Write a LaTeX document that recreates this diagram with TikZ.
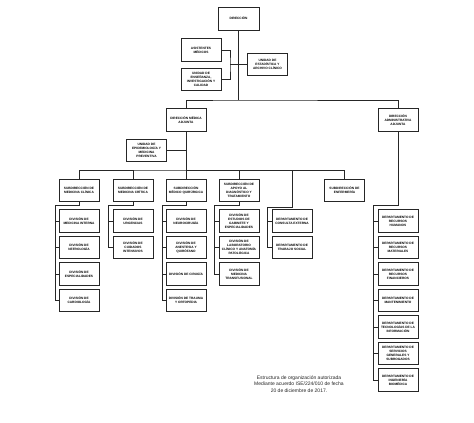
\documentclass[tikz,border=0pt]{standalone}
\usepackage{fontspec}
\setmainfont{Liberation Sans}
\begin{document}
\begin{tikzpicture}[x=1pt,y=-1pt,
  box/.style={draw=black!85, line width=0.6pt, minimum width=40pt, minimum height=22.5pt, inner sep=0pt, align=center, font=\fontsize{3.2}{4}\selectfont\bfseries, fill=white},
  conn/.style={draw=black!85, line width=0.7pt}]
\useasboundingbox (0,0) rectangle (474,423);
\fill[white] (0,0) rectangle (474,423);
% top level
\node[box, minimum width=41pt, minimum height=23pt] (dir) at (238.5,18.5) {DIRECCIÓN};
\node[box] (asis) at (201,50) {ASISTENTES\\MÉDICOS};
\node[box] (ens) at (201,79.5) {UNIDAD DE\\ENSEÑANZA,\\INVESTIGACIÓN Y\\CALIDAD};
\node[box] (est) at (267.5,64.5) {UNIDAD DE\\ESTADÍSTICA Y\\ARCHIVO CLÍNICO};
\node[box] (dma) at (186,120) {DIRECCIÓN MÉDICA\\ADJUNTA};
\node[box] (daa) at (398,120) {DIRECCIÓN\\ADMINISTRATIVA\\ADJUNTA};
\node[box] (epi) at (146.5,150.5) {UNIDAD DE\\EPIDEMIOLOGÍA Y\\MEDICINA\\PREVENTIVA};
% subdirecciones
\node[box] (smc) at (79,190.5) {SUBDIRECCIÓN DE\\MEDICINA CLÍNICA};
\node[box] (smcr) at (133,190.5) {SUBDIRECCIÓN DE\\MEDICINA CRÍTICA};
\node[box] (smq) at (186,190.5) {SUBDIRECCIÓN\\MÉDICO QUIRÚRGICA};
\node[box] (sadt) at (239,190.5) {SUBDIRECCIÓN DE\\APOYO AL\\DIAGNÓSTICO Y\\TRATAMIENTO};
\node[box] (enf) at (344.5,190.5) {SUBDIRECCIÓN DE\\ENFERMERÍA};
% divisiones clinica
\node[box] (dmi) at (79,221) {DIVISIÓN DE\\MEDICINA INTERNA};
\node[box] (dnef) at (79,247.5) {DIVISIÓN DE\\NEFROLOGÍA};
\node[box] (desp) at (79,274) {DIVISIÓN DE\\ESPECIALIDADES};
\node[box] (dcar) at (79,300.5) {DIVISIÓN DE\\CARDIOLOGÍA};
% critica
\node[box] (durg) at (133,221) {DIVISIÓN DE\\URGENCIAS};
\node[box] (dci) at (133,247.5) {DIVISIÓN DE\\CUIDADOS\\INTENSIVOS};
% quirurgica
\node[box] (dneu) at (186,221) {DIVISIÓN DE\\NEUROCIRUGÍA};
\node[box] (dane) at (186,247.5) {DIVISIÓN DE\\ANESTESIA Y\\QUIRÓFANO};
\node[box] (dcir) at (186,274) {DIVISIÓN DE CIRUGÍA};
\node[box] (dtra) at (186,300.5) {DIVISIÓN DE TRAUMA\\Y ORTOPEDIA};
% apoyo
\node[box] (dgab) at (239,221) {DIVISIÓN DE\\ESTUDIOS DE\\GABINETE Y\\ESPECIALIDADES};
\node[box] (dlab) at (239,247.5) {DIVISIÓN DE\\LABORATORIO\\CLÍNICO Y ANATOMÍA\\PATOLÓGICA};
\node[box] (dtrf) at (239,274) {DIVISIÓN DE\\MEDICINA\\TRANSFUSIONAL};
% departamentos medicos
\node[box] (dce) at (292,221) {DEPARTAMENTO DE\\CONSULTA EXTERNA};
\node[box] (dts) at (292,247.5) {DEPARTAMENTO DE\\TRABAJO SOCIAL};
% administrativos
\node[box] (drh) at (398,221) {DEPARTAMENTO DE\\RECURSOS\\HUMANOS};
\node[box] (drm) at (398,247.5) {DEPARTAMENTO DE\\RECURSOS\\MATERIALES};
\node[box] (drf) at (398,274) {DEPARTAMENTO DE\\RECURSOS\\FINANCIEROS};
\node[box] (dman) at (398,300.5) {DEPARTAMENTO DE\\MANTENIMIENTO};
\node[box] (dti) at (398,327) {DEPARTAMENTO DE\\TECNOLOGÍAS DE LA\\INFORMACIÓN};
\node[box] (dsg) at (398,353.5) {DEPARTAMENTO DE\\SERVICIOS\\GENERALES Y\\SUBROGADOS};
\node[box] (dib) at (398,380) {DEPARTAMENTO DE\\INGENIERÍA\\BIOMÉDICA};
% footer
\node[font=\fontsize{5}{6.4}\selectfont, align=center, text=black!85] (foot) at (299,384) {Estructura de organización autorizada\\Mediante acuerdo ISE/224/010 de fecha\\20 de diciembre de 2017.};
% connectors top
\coordinate (j0) at (238.5,100);
\coordinate (b1) at (230,64.5);
\draw[conn] (dir.south) -- (j0);
\draw[conn] (asis.east) -| (b1) |- (ens.east);
\draw[conn] (b1) -- (est.west);
\draw[conn] (dma.north) |- (j0) -| (daa.north);
\coordinate (j1) at (186,170);
\draw[conn] (dma.south) -- (j1);
\draw[conn] (epi.east) -- (epi.east -| j1);
\draw[conn] (smc.north) |- (j1) -| (enf.north);
\draw[conn] (smcr.north) -- (smcr.north |- j1);
\draw[conn] (smq.north) -- (j1);
\draw[conn] (sadt.north) -- (sadt.north |- j1);
% groups
\coordinate (gA) at (55,205);
\draw[conn] (smc.south) |- (gA) |- (dcar.west);
\foreach \n in {dmi,dnef,desp} \draw[conn] (gA |- \n.west) -- (\n.west);
\coordinate (gB) at (108,205);
\draw[conn] (smcr.south) |- (gB) |- (dci.west);
\draw[conn] (gB |- durg.west) -- (durg.west);
\coordinate (gC) at (162,205);
\draw[conn] (smq.south) |- (gC) |- (dtra.west);
\foreach \n in {dneu,dane,dcir} \draw[conn] (gC |- \n.west) -- (\n.west);
\coordinate (gD) at (214,205);
\draw[conn] (sadt.south) |- (gD) |- (dtrf.west);
\foreach \n in {dgab,dlab} \draw[conn] (gD |- \n.west) -- (\n.west);
\coordinate (k) at (292,170);
\coordinate (gE) at (267,207);
\draw[conn] (smq.north |- k) -- (k) |- (gE) |- (dts.west);
\draw[conn] (gE |- dce.west) -- (dce.west);
\coordinate (gF) at (373,205);
\draw[conn] (daa.south) |- (gF) |- (dib.west);
\foreach \n in {drh,drm,drf,dman,dti,dsg} \draw[conn] (gF |- \n.west) -- (\n.west);
\end{tikzpicture}
\end{document}
